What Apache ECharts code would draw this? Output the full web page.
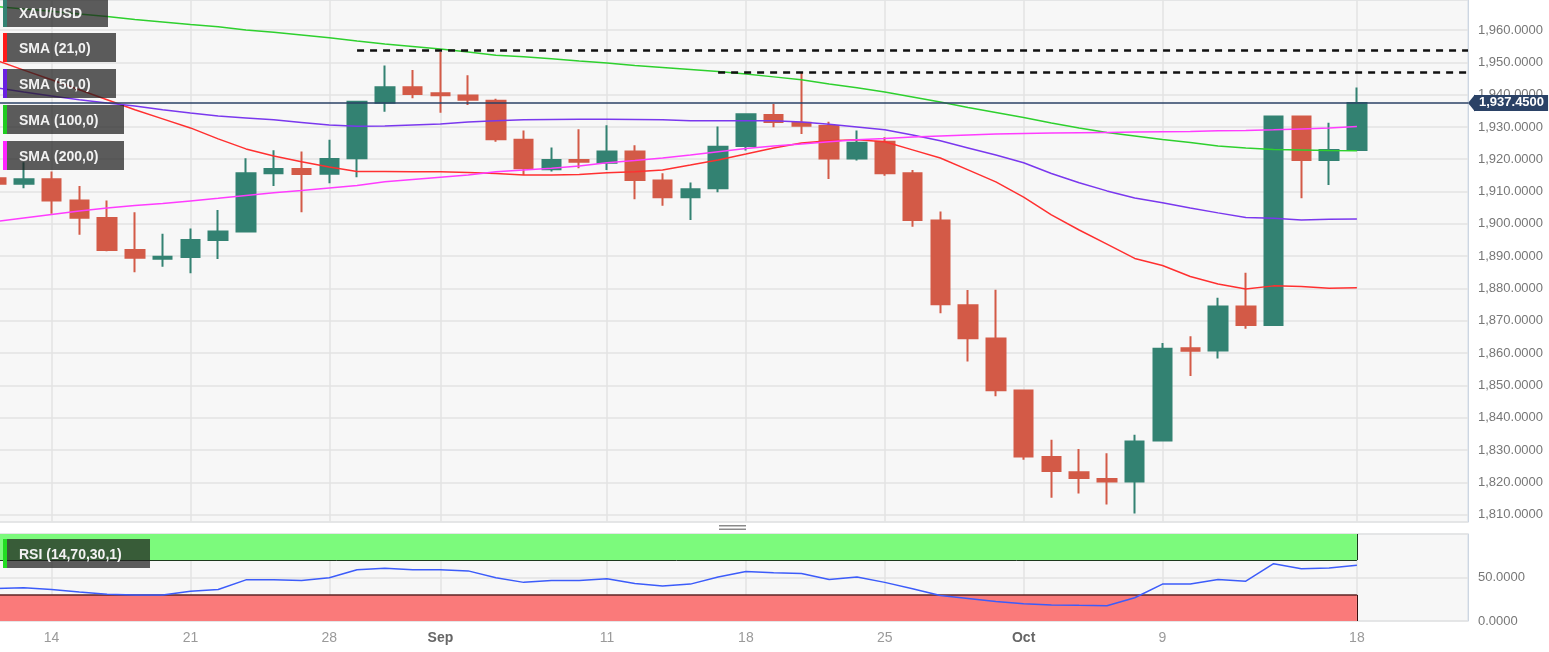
<!DOCTYPE html>
<html><head><meta charset="utf-8">
<script src="https://cdn.jsdelivr.net/npm/echarts@6/dist/echarts.min.js"></script>
<style>html,body{margin:0;padding:0;background:#fff;overflow:hidden}#c{width:1553px;height:652px;margin-left:-4px}</style>
</head><body><div id="c"></div>
<script>
// ---------- data ----------
const dates = ['Aug 10','Aug 11','Aug 14','Aug 15','Aug 16','Aug 17','Aug 18','Aug 21','Aug 22','Aug 23','Aug 24','Aug 25','Aug 28','Aug 29','Aug 30','Aug 31',
 'Sep 1','Sep 4','Sep 5','Sep 6','Sep 7','Sep 8','Sep 11','Sep 12','Sep 13','Sep 14','Sep 15','Sep 18','Sep 19','Sep 20','Sep 21','Sep 22','Sep 25','Sep 26','Sep 27','Sep 28','Sep 29',
 'Oct 2','Oct 3','Oct 4','Oct 5','Oct 6','Oct 9','Oct 10','Oct 11','Oct 12','Oct 13','Oct 16','Oct 17','Oct 18','Oct 19','Oct 20','Oct 23','Oct 24'];
const opens  = [1914.1,1912.4,1913.8,1907.2,1901.8,1891.9,1889.2,1889.7,1895.0,1897.6,1915.7,1917.0,1915.5,1920.3,1937.5,1942.3,
 1940.4,1939.7,1938.1,1926.0,1916.9,1919.8,1918.9,1922.4,1913.4,1908.2,1911.0,1924.1,1933.7,1931.3,1930.3,1920.2,1925.4,1915.7,1901.0,1874.8,1864.5,
 1848.4,1827.8,1823.1,1821.0,1820.2,1832.9,1861.5,1860.8,1874.4,1868.7,1933.2,1919.8,1922.9];
const closes = [1912.4,1913.8,1907.2,1901.9,1891.9,1889.5,1889.8,1895.0,1897.6,1915.7,1917.0,1915.4,1920.1,1937.8,1942.3,1940.2,
 1939.8,1938.4,1926.2,1917.2,1919.8,1919.2,1922.4,1913.6,1908.2,1910.7,1923.9,1933.9,1931.5,1930.4,1920.2,1925.1,1915.7,1901.2,1875.1,1864.6,1848.5,
 1828.0,1823.5,1821.3,1820.2,1832.6,1861.3,1860.7,1874.4,1868.7,1933.2,1919.8,1922.9,1937.45];
const lows   = [1911.0,1911.0,1903.1,1896.6,1891.5,1885.0,1886.7,1884.7,1889.1,1897.3,1911.7,1903.6,1912.6,1914.4,1934.7,1938.9,
 1934.4,1936.8,1925.4,1915.1,1916.2,1917.2,1916.7,1907.6,1905.6,1901.2,1909.8,1922.7,1929.9,1927.8,1913.9,1919.6,1914.9,1899.1,1872.3,1857.4,1846.6,
 1827.0,1815.2,1816.5,1813.1,1810.3,1832.7,1852.9,1858.3,1867.5,1868.5,1907.9,1912.0,1922.7];
const highs  = [1916.0,1919.1,1916.2,1911.7,1907.2,1903.6,1896.9,1898.6,1904.3,1920.3,1922.8,1922.4,1926.0,1938.0,1949.0,1947.6,
 1953.2,1946.0,1938.7,1928.9,1923.6,1929.3,1930.5,1924.3,1915.7,1912.8,1930.1,1934.2,1937.1,1946.8,1931.6,1928.9,1926.8,1916.7,1903.8,1879.5,1879.6,
 1848.7,1833.2,1830.3,1829.0,1834.7,1863.1,1865.2,1877.1,1884.9,1933.4,1933.4,1931.3,1942.2];
const sma21  = [1950.7,1947.6,1944.6,1941.5,1938.4,1935.3,1932.5,1929.7,1926.3,1923.2,1921.0,1919.2,1917.6,1916.2,1916.2,1916.1,
 1916.1,1915.9,1915.6,1915.1,1915.1,1915.3,1915.8,1916.1,1916.7,1918.2,1919.8,1921.6,1923.5,1925.0,1925.7,1926.0,1925.4,1922.9,1920.4,1916.7,1913.0,
 1908.3,1902.8,1898.1,1893.7,1889.3,1887.1,1883.7,1881.4,1879.8,1880.8,1880.6,1880.1,1880.2];
const sma50  = [1942.1,1940.8,1939.6,1938.4,1937.4,1936.5,1935.3,1934.3,1933.4,1932.8,1932.2,1931.4,1930.6,1930.2,1930.3,1930.6,
 1930.9,1931.5,1931.9,1932.2,1932.3,1932.4,1932.4,1932.3,1932.2,1931.9,1931.9,1931.9,1931.9,1931.5,1930.8,1930.0,1929.1,1927.5,1925.7,1923.5,1921.3,
 1918.9,1915.6,1912.7,1910.2,1908.0,1906.5,1904.9,1903.4,1902.0,1901.7,1901.2,1901.4,1901.5];
const sma100 = [1967.3,1966.5,1965.8,1965.0,1964.2,1963.3,1962.5,1961.7,1961.0,1960.0,1959.3,1958.5,1957.6,1956.6,1955.7,1954.9,
 1954.1,1953.2,1952.2,1951.7,1951.1,1950.4,1949.8,1949.0,1948.4,1947.8,1947.2,1946.4,1945.5,1944.6,1943.3,1942.1,1940.8,1939.3,1937.7,1936.0,1934.5,
 1932.9,1931.2,1929.7,1928.3,1927.2,1926.1,1925.2,1924.1,1923.5,1923.0,1922.9,1922.7,1922.6];
const sma200 = [1900.7,1901.8,1902.9,1904.0,1904.9,1905.7,1906.3,1907.1,1907.9,1908.8,1909.6,1910.3,1911.1,1911.9,1913.0,1913.7,
 1914.4,1915.1,1916.1,1916.7,1917.2,1917.9,1918.9,1919.6,1920.4,1921.3,1922.3,1923.3,1924.1,1924.7,1925.4,1926.0,1926.4,1926.9,1927.2,1927.5,1927.8,
 1928.0,1928.1,1928.2,1928.3,1928.4,1928.5,1928.6,1928.8,1928.9,1929.1,1929.4,1929.7,1930.1];
const rsi    = [37.4,38.2,36.2,33.3,30.8,30.0,30.0,34.1,36.2,47.3,47.3,46.5,49.8,58.9,60.5,58.9,
 58.9,57.6,49.8,44.4,46.5,46.5,48.6,43.2,40.3,42.4,50.6,56.8,55.6,54.7,47.7,50.6,44.4,37.0,29.2,25.9,22.5,
 19.7,18.5,18.0,17.6,26.7,42.4,42.4,47.7,45.7,65.9,60.1,60.9,64.2];
const tickDates = ['Aug 14','Aug 21','Aug 28','Sep 1','Sep 11','Sep 18','Sep 25','Oct 2','Oct 9','Oct 18'];
const tickText  = ['14','21','28','Sep','11','18','25','Oct','9','18'];
const lastPrice = 1937.45;
const resistance1 = 1953.8, resistance1From = 'Aug 29';
const resistance2 = 1947.0, resistance2From = 'Sep 15';
const rsiUpper = 70, rsiLower = 30, rsiEnd = 'Oct 18';
const yMin = 1807.7, yMax = 1969.3;

// ---------- chart ----------
const FONT = 'Liberation Sans, Arial, sans-serif';
const UP = '#338272', DOWN = '#d35a47', NAVY = '#2b4266';
const OX = 4; // container is shifted 4px left; graphic coords compensate
const candles = closes.map((c, i) => [opens[i], c, lows[i], highs[i]]);
const isTick = (idx, val) => tickDates.indexOf(val) >= 0;
const fmtPrice = v => v.toLocaleString('en-US', {minimumFractionDigits: 4, maximumFractionDigits: 4});
const grid = {color: '#e3e3e3', width: 1.5};

const legends = [
  {text: 'XAU/USD', color: UP, y: -3, h: 30, w: 105},
  {text: 'SMA (21,0)', color: '#ff1a1a', y: 33, h: 29, w: 113},
  {text: 'SMA (50,0)', color: '#6a1fe0', y: 69, h: 29, w: 113},
  {text: 'SMA (100,0)', color: '#1fcc1f', y: 105, h: 29, w: 121},
  {text: 'SMA (200,0)', color: '#ff22ff', y: 141, h: 29, w: 121},
  {text: 'RSI (14,70,30,1)', color: '#22dd22', y: 539, h: 29, w: 147}
];
function legendGraphics() {
  const g = [];
  legends.forEach((l, k) => {
    g.push({type: 'rect', id: 'lb' + k, z: 100, shape: {x: 3 + OX, y: l.y, width: l.w, height: l.h}, style: {fill: 'rgba(30,30,30,0.72)'}});
    g.push({type: 'rect', id: 'ls' + k, z: 101, shape: {x: 3 + OX, y: l.y, width: 4, height: l.h}, style: {fill: l.color}});
    g.push({type: 'text', id: 'lt' + k, z: 102, x: 19 + OX, y: l.y + l.h / 2 + 2,
      style: {text: l.text, fill: '#f2f2f2', font: 'bold 14px ' + FONT, verticalAlign: 'middle'}});
  });
  g.push({type: 'rect', id: 'sp1', z: 100, shape: {x: 719 + OX, y: 525, width: 27, height: 1.5}, style: {fill: '#8a8a8a'}});
  g.push({type: 'rect', id: 'sp2', z: 100, shape: {x: 719 + OX, y: 528.5, width: 27, height: 1.5}, style: {fill: '#8a8a8a'}});
  return g;
}

const smaLine = (name, data, color) => ({
  type: 'line', name, data, xAxisIndex: 0, yAxisIndex: 0, symbol: 'none', showSymbol: false,
  lineStyle: {color, width: 1.5}, itemStyle: {color}, z: 3, animation: false, silent: true
});

const option = {
  animation: false,
  backgroundColor: '#ffffff',
  grid: [
    {left: 0, right: 81, top: 0, bottom: 130, show: true, backgroundColor: '#f7f7f7', borderColor: '#d5dce6', borderWidth: 1},
    {left: 0, right: 81, top: 534, bottom: 31, show: true, backgroundColor: '#f7f7f7', borderColor: '#d5dce6', borderWidth: 1}
  ],
  xAxis: [
    {type: 'category', gridIndex: 0, data: dates, boundaryGap: false,
     axisLine: {show: false}, axisTick: {show: false}, axisLabel: {show: false},
     splitLine: {show: true, interval: isTick, lineStyle: grid}},
    {type: 'category', gridIndex: 1, data: dates, boundaryGap: false,
     axisLine: {show: false}, axisTick: {show: false},
     axisLabel: {show: true, interval: isTick, margin: 10, color: '#9a9a9a', fontSize: 14, fontFamily: FONT,
       formatter: v => { const t = tickText[tickDates.indexOf(v)] || ''; return /[A-Za-z]/.test(t) ? '{m|' + t + '}' : t; },
       rich: {m: {fontWeight: 'bold', color: '#666666', fontSize: 14, fontFamily: FONT}}},
     splitLine: {show: true, interval: isTick, lineStyle: grid}}
  ],
  yAxis: [
    {type: 'value', gridIndex: 0, position: 'right', min: yMin, max: yMax, minInterval: 10, maxInterval: 10, splitNumber: 16,
     scale: true, axisLine: {show: true, lineStyle: {color: '#cdd6e2'}}, axisTick: {show: false},
     splitLine: {show: true, lineStyle: grid},
     axisLabel: {margin: 10, color: '#777', fontSize: 13, fontFamily: FONT,
       formatter: v => Math.abs(v / 10 - Math.round(v / 10)) < 1e-6 ? fmtPrice(v) : ''}},
    {type: 'value', gridIndex: 1, position: 'right', min: 0, max: 100, interval: 50,
     axisLine: {show: true, lineStyle: {color: '#cdd6e2'}}, axisTick: {show: false},
     splitLine: {show: true, lineStyle: grid},
     axisLabel: {margin: 10, color: '#777', fontSize: 13, fontFamily: FONT,
       formatter: v => (v === 0 || v === 50) ? v.toFixed(4) : ''}}
  ],
  series: [
    {type: 'candlestick', name: 'XAU/USD', xAxisIndex: 0, yAxisIndex: 0, data: candles, barWidth: 19, z: 2,
     itemStyle: {color: UP, color0: DOWN, borderColor: UP, borderColor0: DOWN, borderWidth: 2},
     markLine: {symbol: 'none', silent: true, animation: false, z: 20,
       data: [
         {yAxis: lastPrice, lineStyle: {color: NAVY, width: 1.5, type: 'solid'},
          label: {show: true, position: 'end', distance: 6, formatter: () => fmtPrice(lastPrice),
            backgroundColor: NAVY, color: '#fff', fontWeight: 'bold', fontSize: 13, fontFamily: FONT, padding: [2, 4, 1, 5]}},
         [{coord: [resistance1From, resistance1], lineStyle: {color: '#111', width: 2.5, type: [7, 6]}, label: {show: false}},
          {coord: [dates[dates.length - 1], resistance1]}],
         [{coord: [resistance2From, resistance2], lineStyle: {color: '#111', width: 2.5, type: [7, 6]}, label: {show: false}},
          {coord: [dates[dates.length - 1], resistance2]}]
       ]}},
    smaLine('SMA (21,0)', sma21, '#ff3030'),
    smaLine('SMA (50,0)', sma50, '#7a38ee'),
    smaLine('SMA (100,0)', sma100, '#2ed02e'),
    smaLine('SMA (200,0)', sma200, '#ff3cff'),
    {type: 'line', name: 'RSI', xAxisIndex: 1, yAxisIndex: 1, data: rsi, symbol: 'none', showSymbol: false,
     lineStyle: {color: '#3c5cfa', width: 1.5}, itemStyle: {color: '#3c5cfa'}, z: 5, silent: true,
     markArea: {silent: true, data: [
       [{xAxis: dates[0], yAxis: rsiUpper, itemStyle: {color: '#7cfa7c'}}, {xAxis: rsiEnd, yAxis: 100}],
       [{xAxis: dates[0], yAxis: 0, itemStyle: {color: '#fa7a7a'}}, {xAxis: rsiEnd, yAxis: rsiLower}]
     ]},
     markLine: {symbol: 'none', silent: true, animation: false, label: {show: false},
       data: [
         [{coord: [dates[0], rsiUpper], lineStyle: {color: '#1d3a1d', width: 1, type: 'solid'}}, {coord: [rsiEnd, rsiUpper]}],
         [{coord: [rsiEnd, rsiUpper], lineStyle: {color: '#1d3a1d', width: 1, type: 'solid'}}, {coord: [rsiEnd, 100]}],
         [{coord: [dates[0], rsiLower], lineStyle: {color: '#5c2424', width: 1.5, type: 'solid'}}, {coord: [rsiEnd, rsiLower]}],
         [{coord: [rsiEnd, 0], lineStyle: {color: '#3a1010', width: 1, type: 'solid'}}, {coord: [rsiEnd, rsiLower]}]
       ]}}
  ],
  graphic: legendGraphics()
};

const chart = echarts.init(document.getElementById('c'), null, {renderer: 'canvas'});
chart.setOption(option);
const py = chart.convertToPixel({yAxisIndex: 0}, lastPrice);
const px = chart.convertToPixel({xAxisIndex: 0}, dates[dates.length - 1]);
const g = legendGraphics();
g.push({type: 'polygon', id: 'tagArrow', z: 50, shape: {points: [[px, py], [px + 7, py - 8.5], [px + 7, py + 8.5]]}, style: {fill: NAVY}});
chart.setOption({graphic: g});
</script></body></html>
